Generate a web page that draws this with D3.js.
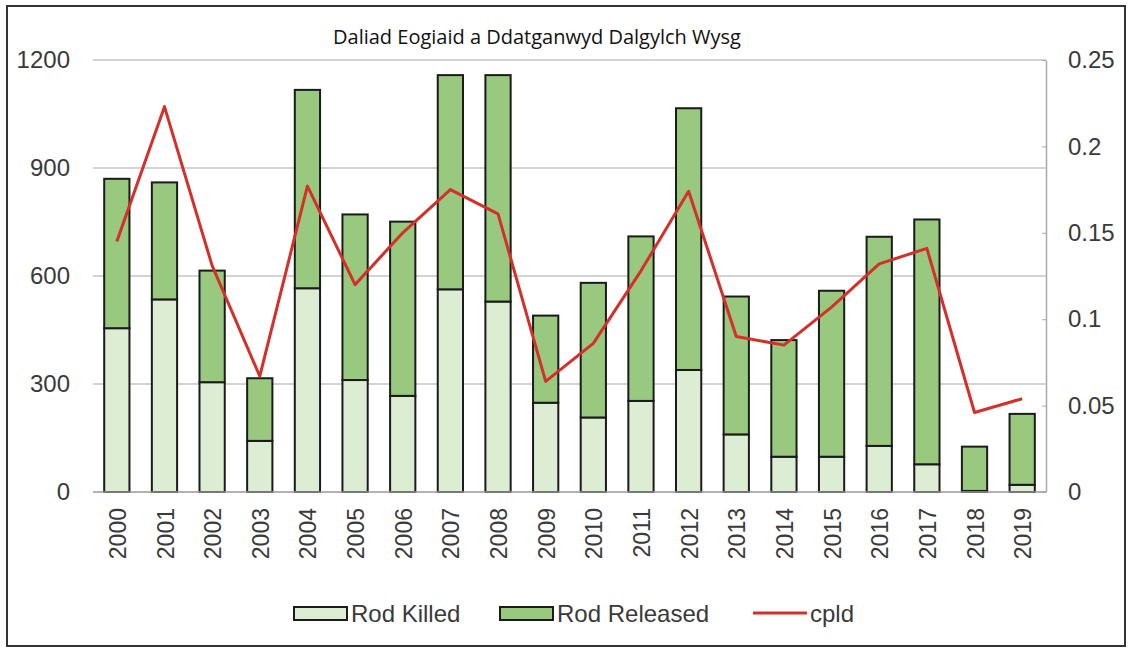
<!DOCTYPE html>
<html>
<head>
<meta charset="utf-8">
<script src="https://cdn.jsdelivr.net/npm/d3@7"></script>
<style>
  body { margin: 0; background: #fff; }
  svg { display: block; }
</style>
</head>
<body>
<script>
// data
var years = ["2000","2001","2002","2003","2004","2005","2006","2007","2008","2009",
             "2010","2011","2012","2013","2014","2015","2016","2017","2018","2019"];
var rodKilled   = [455, 535, 305, 142, 566, 311, 267, 563, 529, 248, 207, 253, 339, 160, 98, 98, 128, 77, 3, 20];
var rodReleased = [415, 325, 310, 174, 551, 460, 484, 595, 629, 242, 374, 457, 727, 383, 324, 461, 581, 680, 123, 197];
var cpld = [0.145, 0.223, 0.131, 0.067, 0.177, 0.120, 0.150, 0.175, 0.161, 0.064,
            0.086, 0.128, 0.174, 0.090, 0.085, 0.107, 0.132, 0.141, 0.046, 0.054];
var leftTicks = [0, 300, 600, 900, 1200];
var rightTicks = [0, 0.05, 0.1, 0.15, 0.2, 0.25];
var seriesNames = ["Rod Killed", "Rod Released", "cpld"];

var width = 1131, height = 648;
var colKilled = "#dcedd3", colReleased = "#98c97e", colLine = "#d52f2a";
var font = "Liberation Sans, Arial, sans-serif";

var svg = d3.select("body").append("svg")
  .attr("width", width)
  .attr("height", height);

// outer frame
svg.append("rect")
  .attr("x", 7).attr("y", 6)
  .attr("width", 1118).attr("height", 640)
  .attr("fill", "none")
  .attr("stroke", "#333")
  .attr("stroke-width", 2);

var plotL = 93, plotR = 1046, plotT = 60, plotB = 492;

var x = d3.scaleBand().domain(years).range([plotL, plotR])
  .paddingInner(0.47).paddingOuter(0.235);
var y = d3.scaleLinear().domain([0, 1200]).range([plotB, plotT]);
var y2 = d3.scaleLinear().domain([0, 0.25]).range([plotB, plotT]);

// gridlines
svg.append("g")
  .selectAll("line")
  .data(leftTicks.slice(1))
  .enter().append("line")
  .attr("x1", plotL).attr("x2", plotR)
  .attr("y1", function(d) { return y(d); })
  .attr("y2", function(d) { return y(d); })
  .attr("stroke", "#c4c4c4")
  .attr("stroke-width", 1.5);

// left axis labels
var yAxis = d3.axisLeft(y).tickValues(leftTicks).tickSize(0).tickPadding(0)
  .tickFormat(d3.format("d"));
var gy = svg.append("g").attr("transform", "translate(70,0)").call(yAxis);
gy.select(".domain").remove();
gy.selectAll("text")
  .attr("font-family", font)
  .attr("font-size", 24)
  .attr("fill", "#3a3a3a");

// right axis
var yAxis2 = d3.axisRight(y2).tickValues(rightTicks).tickSizeInner(-4).tickSizeOuter(0).tickPadding(22)
  .tickFormat(function(d) { return d === 0 ? "0" : String(+d.toFixed(2)); });
var gy2 = svg.append("g").attr("transform", "translate(" + plotR + ",0)").call(yAxis2);
gy2.select(".domain").attr("stroke", "#aaa").attr("stroke-width", 1.5);
gy2.selectAll(".tick line").attr("stroke", "#aaa");
gy2.selectAll("text")
  .attr("font-family", font)
  .attr("font-size", 24)
  .attr("fill", "#3a3a3a");

// stacked bars
var rows = years.map(function(yr, i) {
  return { year: yr, killed: rodKilled[i], released: rodReleased[i] };
});
var layers = d3.stack().keys(["killed", "released"])(rows);
var fills = [colKilled, colReleased];

svg.append("g")
  .selectAll("g")
  .data(layers)
  .enter().append("g")
  .attr("fill", function(d, i) { return fills[i]; })
  .selectAll("rect")
  .data(function(d) { return d; })
  .enter().append("rect")
  .attr("x", function(d) { return x(d.data.year); })
  .attr("width", x.bandwidth())
  .attr("y", function(d) { return y(d[1]); })
  .attr("height", function(d) { return y(d[0]) - y(d[1]); })
  .attr("stroke", "#1b1b1b")
  .attr("stroke-width", 2);

// bottom axis
var xAxis = d3.axisBottom(x).tickSize(0).tickPadding(0);
var gx = svg.append("g").attr("transform", "translate(0," + plotB + ")").call(xAxis);
gx.select(".domain").attr("stroke", "#999").attr("stroke-width", 1.5)
  .attr("d", "M" + plotL + ",0H" + plotR);
gx.selectAll("text")
  .attr("font-family", font)
  .attr("font-size", 23)
  .attr("fill", "#3a3a3a")
  .attr("transform", "rotate(-90)")
  .attr("text-anchor", "end")
  .attr("x", -16)
  .attr("y", 1)
  .attr("dy", "0.35em");

// cpld line
var line = d3.line()
  .x(function(d, i) { return x(years[i]) + x.bandwidth() / 2; })
  .y(function(d) { return y2(d); });
svg.append("path")
  .datum(cpld)
  .attr("d", line)
  .attr("fill", "none")
  .attr("stroke", colLine)
  .attr("stroke-width", 3)
  .attr("stroke-linejoin", "round");

// title
svg.append("text")
  .attr("x", 537).attr("y", 44)
  .attr("text-anchor", "middle")
  .attr("font-family", "Open Sans, Noto Sans, sans-serif")
  .attr("font-size", 20)
  .attr("fill", "#111")
  .text("Daliad Eogiaid a Ddatganwyd Dalgylch Wysg");

// legend
var legendX = [294, 500, 753];
var items = svg.append("g").attr("class", "legend")
  .selectAll("g")
  .data(seriesNames)
  .enter().append("g")
  .attr("transform", function(d, i) { return "translate(" + legendX[i] + ",613)"; });
items.each(function(d, i) {
  var g = d3.select(this);
  if (i < 2) {
    g.append("rect")
      .attr("x", 0).attr("y", -6)
      .attr("width", 53).attr("height", 13)
      .attr("fill", fills[i])
      .attr("stroke", "#1b1b1b")
      .attr("stroke-width", 2);
  } else {
    g.append("line")
      .attr("x1", 0).attr("x2", 54)
      .attr("y1", 0).attr("y2", 0)
      .attr("stroke", colLine)
      .attr("stroke-width", 3);
  }
  g.append("text")
    .attr("x", 57)
    .attr("y", 1)
    .attr("dy", "0.35em")
    .attr("font-family", font)
    .attr("font-size", 24)
    .attr("fill", "#3a3a3a")
    .text(d);
});
</script>
</body>
</html>
